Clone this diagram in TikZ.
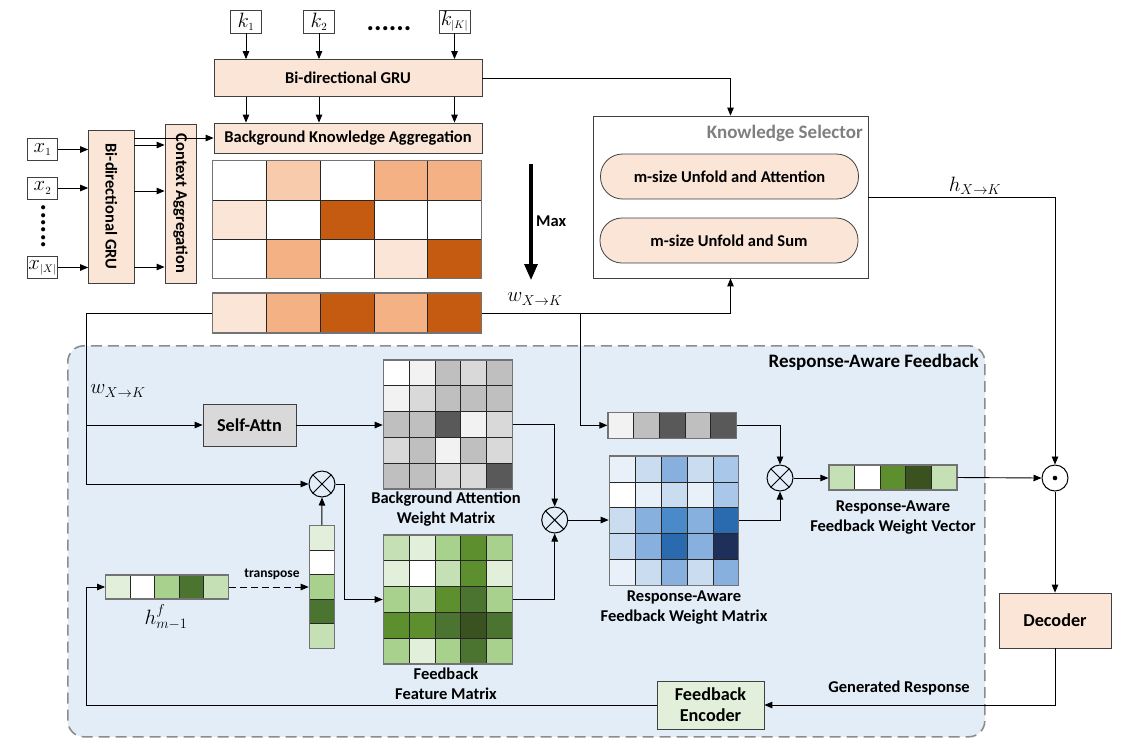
\documentclass[tikz,border=0pt]{standalone}
\usepackage{fontspec}
\setmainfont{Carlito}
\usetikzlibrary{arrows.meta,calc}
\definecolor{o1}{HTML}{FBE5D6}
\definecolor{o2}{HTML}{F8CBAD}
\definecolor{o3}{HTML}{F4B183}
\definecolor{o4}{HTML}{C55A11}
\definecolor{g1}{HTML}{F2F2F2}
\definecolor{g2}{HTML}{D9D9D9}
\definecolor{g3}{HTML}{BFBFBF}
\definecolor{g4}{HTML}{595959}
\definecolor{n1}{HTML}{E2EFDA}
\definecolor{n2}{HTML}{C5E0B4}
\definecolor{n3}{HTML}{A9D18E}
\definecolor{n4}{HTML}{5E8F2E}
\definecolor{n5}{HTML}{4B7430}
\definecolor{n6}{HTML}{3A5220}
\definecolor{b1}{HTML}{E8F0F9}
\definecolor{b2}{HTML}{C9DCF0}
\definecolor{b3}{HTML}{A9C7E8}
\definecolor{b4}{HTML}{88B0DE}
\definecolor{b5}{HTML}{4A8AC8}
\definecolor{b6}{HTML}{2A6AAF}
\definecolor{b7}{HTML}{1E2F5A}
\definecolor{regionfill}{HTML}{E2EDF8}
\definecolor{regionborder}{HTML}{8C8C8C}
\definecolor{ksgray}{HTML}{7F7F7F}
\definecolor{cellline}{HTML}{262626}
\newcommand{\cellgrid}[6]{%
  \foreach \cellc [count=\cellk from 0] in {#6} {%
    \pgfmathtruncatemacro{\cellr}{floor(\cellk/#5)}%
    \pgfmathtruncatemacro{\cellq}{\cellk-\cellr*#5}%
    \filldraw[fill=\cellc, draw=cellline, line width=0.8pt] ({#1+\cellq*#3},{#2+\cellr*#4}) rectangle ++(#3,#4);
  }%
}
\tikzset{
  base/.style={font=\fontsize{16.5}{20}\selectfont\bfseries},
  big/.style={font=\fontsize{18.2}{22}\selectfont\bfseries},
  peach/.style={draw=black!75, fill=o1, line width=0.8pt, inner sep=0pt},
  arr/.style={-{Triangle[length=8pt,width=6.5pt]}, line width=0.9pt},
  ln/.style={line width=0.9pt},
  mathlbl/.style={font=\fontsize{21}{23}\selectfont, inner sep=0pt},
  inbox/.style={draw=black!75, line width=0.8pt, fill=white, inner sep=0pt, minimum width=31, minimum height=23, font=\fontsize{22}{24}\selectfont},
  gridframe/.style={draw=black!55, line width=1.2pt, inner sep=0pt},
  mop/.style={circle, draw, line width=1pt, minimum size=26, inner sep=0pt},
  otimes/.style={mop, path picture={\draw[line width=1pt] (path picture bounding box.north west) -- (path picture bounding box.south east) (path picture bounding box.north east) -- (path picture bounding box.south west);}},
}
\begin{document}
\begin{tikzpicture}[x=1pt,y=-1pt]
\useasboundingbox (0,0) rectangle (1127,748);
% feedback region
\node[draw=regionborder, dash pattern=on 11pt off 6pt, line width=1.6pt, fill=regionfill, rounded corners=16pt, minimum width=917, minimum height=391, anchor=north west, inner sep=0pt] (raf) at (67,345) {};
\node[font=\fontsize{19}{22}\selectfont\bfseries, anchor=east, inner sep=0pt] (raftitle) at (979,362) {Response-Aware Feedback};

% knowledge inputs
\node[inbox] (k1) at (246,21.5) {$k_{\scriptscriptstyle 1}$};
\node[inbox] (k2) at (319,21.5) {$k_{\scriptscriptstyle 2}$};
\node[inbox] (kK) at (454.5,21.5) {$k_{\scriptscriptstyle |K|}$};
\node[font=\fontsize{28}{28}\selectfont\bfseries, anchor=base, inner sep=0pt] (kdots) at (389,30.5) {......};
\node[peach, minimum width=268, minimum height=37, base] (gru) at (348,78) {Bi-directional GRU};
\node[peach, minimum width=268, minimum height=30, base] (bka) at (348,138) {Background Knowledge Aggregation};
\foreach \kn in {k1,k2,kK} {
  \draw[arr] (\kn.south) -- (\kn.south |- gru.north);
  \draw[arr] (\kn.south |- gru.south) -- (\kn.south |- bka.north);
}

% context inputs
\node[inbox, minimum width=30, minimum height=22] (x1) at (42.5,149.5) {$x_{\scriptscriptstyle 1}$};
\node[inbox, minimum width=30, minimum height=22] (x2) at (42.5,188) {$x_{\scriptscriptstyle 2}$};
\node[inbox, minimum width=30, minimum height=22] (xX) at (42.5,267.5) {$x_{\scriptscriptstyle |X|}$};
\node[font=\fontsize{28}{28}\selectfont\bfseries, rotate=90, anchor=base, inner sep=0pt] (xdots) at (45,226.5) {......};
\node[peach, minimum width=45.4, minimum height=153, base] (bigru) at (111.3,206.5) {\rotatebox{-90}{Bi-directional GRU}};
\node[peach, minimum width=31, minimum height=159, base] (ca) at (180.5,203.5) {\rotatebox{-90}{Context Aggregation}};
\foreach \xn in {x1,x2,xX} {
  \draw[arr] (\xn.east) -- (\xn.east -| bigru.west);
}
\coordinate (c1) at (0,145);
\coordinate (c2) at (0,191);
\coordinate (c3) at (0,267);
\foreach \cn in {c1,c2,c3} {
  \draw[arr] (bigru.east |- \cn) -- (ca.west |- \cn);
}
\draw[arr] (bigru.east |- bka.west) -- (bka.west);

% background matrix
\cellgrid{212.5}{160.7}{53.8}{39.2}{5}{white,o2,white,o3,o3,o1,white,o4,white,white,white,o3,white,o1,o4}
\node[gridframe, minimum width=269, minimum height=117.6] (mtop) at (347,219.5) {};
\cellgrid{212.5}{293}{53.8}{40}{5}{o1,o3,o4,o3,o4}
\node[gridframe, minimum width=269, minimum height=40] (bar) at (347,313) {};

% max arrow
\coordinate (maxs) at (531,164);
\coordinate (maxe) at (531,280);
\draw[line width=3.2pt, -{Triangle[length=16pt,width=13pt]}] (maxs) -- (maxe);
\node[base, anchor=west, inner sep=0pt] (maxlbl) at (536,221) {Max};

% knowledge selector
\node[draw=black!75, line width=0.8pt, fill=white, minimum width=275, minimum height=162, inner sep=0pt] (ks) at (730.5,197) {};
\node[font=\fontsize{19}{22}\selectfont\bfseries, text=ksgray, anchor=east, inner sep=0pt] (kstitle) at (863,133) {Knowledge Selector};
\node[peach, rounded corners=22pt, minimum width=258, minimum height=45, base] (unfa) at (729.5,176.5) {m-size Unfold and Attention};
\node[peach, rounded corners=22pt, minimum width=258, minimum height=45, base] (unfs) at (729,240.5) {m-size Unfold and Sum};
\draw[arr] (gru.east) -| (ks.north);
\draw[arr] (bar.east) -| (ks.south);
\node[mathlbl] (wlbl1) at (535,299) {$w_{X\rightarrow K}$};

% output merge and decoder
\node[mop] (odot) at (1055,478) {};
\fill (odot.center) circle (2.3);
\draw[arr] (ks.east) -| (odot.north);
\node[mathlbl] (hxk) at (975,186) {$h_{X\rightarrow K}$};
\node[peach, minimum width=112, minimum height=55, big] (dec) at (1055,620.5) {Decoder};
\draw[arr] (odot.south) -- (dec.north);
\node[draw=black!75, fill=n1, line width=0.8pt, minimum width=107, minimum height=48, inner sep=0pt, align=center, font=\fontsize{18.2}{21}\selectfont\bfseries] (fe) at (710.5,705) {Feedback\\Encoder};
\draw[arr] (dec.south) |- (fe.east);
\node[base, inner sep=0pt] (genlbl) at (899,688) {Generated Response};

% left trunk
\coordinate (lt) at (86,313);
\coordinate (lb) at (86,705);
\node[draw=black!75, fill=g2, line width=0.8pt, minimum width=93, minimum height=42, inner sep=0pt, big] (sa) at (249.5,425) {Self-Attn};
\node[otimes] (o1) at (322,484) {};
\draw[ln] (bar.west) -- (lt) -- (lt |- o1);
\draw[arr] (lt |- sa) -- (sa.west);
\draw[arr] (lt |- o1) -- (o1.west);
\node[mathlbl] (wlbl2) at (118,391) {$w_{X\rightarrow K}$};

% attention matrix
\cellgrid{383.3}{360}{25.8}{25.8}{5}{white,g1,g3,g2,g3,g1,g2,g3,g3,g3,g3,g3,g4,g1,g2,g2,g3,g1,g3,g2,g3,g3,g2,g2,g4}
\node[gridframe, minimum width=129, minimum height=129] (att) at (447.8,424.5) {};
\node[base, align=center, inner sep=0pt] (attlbl) at (446,509) {Background Attention\\Weight Matrix};
\draw[arr] (sa.east) -- (sa.east -| att.west);

% feedback feature matrix
\cellgrid{383.3}{535}{25.8}{25.8}{5}{n2,n1,n3,n4,n3,n1,white,n2,n4,n1,n3,n2,n4,n5,n3,n4,n4,n5,n6,n5,n3,n1,n3,n5,n3}
\node[gridframe, minimum width=129, minimum height=129] (fb) at (447.8,599.5) {};
\node[base, align=center, inner sep=0pt] (fblbl) at (446,684) {Feedback\\Feature Matrix};

% h vector and transposed column
\cellgrid{105.7}{575}{24.5}{24}{5}{n1,white,n3,n5,n2}
\node[gridframe, minimum width=122.5, minimum height=24] (hvec) at (166.95,587) {};
\node[mathlbl] (hlbl) at (166,617) {$h^{f}_{m-1}$};
\cellgrid{309.3}{525.7}{25}{24.5}{1}{n1,white,n3,n5,n2}
\node[gridframe, minimum width=25, minimum height=122.5] (colvec) at (321.8,586.95) {};
\draw[arr, dashed, dash pattern=on 7pt off 4pt] (hvec.east) -- (hvec.east -| colvec.west);
\node[font=\fontsize{13.5}{15}\selectfont\bfseries, inner sep=0pt] (tlbl) at (272,574) {transpose};
\draw[arr] (colvec.north) -- (o1.south);
\draw[arr] (o1.east) -- ++(9,0) |- (fb.west);
\draw[arr] (fe.west) -- (lb) |- (hvec.west);

% combine
\node[otimes] (o2) at (554.7,520) {};
\draw[arr] (att.east) -| (o2.north);
\draw[arr] (fb.east) -| (o2.south);

% blue matrix
\cellgrid{609.3}{456}{25.9}{25.9}{5}{b1,b2,b4,b2,b3,white,b1,b2,b1,b3,b2,b4,b5,b4,b6,b2,b4,b6,b4,b7,b1,b2,b4,b2,b4}
\node[gridframe, minimum width=129.5, minimum height=129.5] (blue) at (674.05,520.75) {};
\node[base, align=center, inner sep=0pt] (bluelbl) at (684,608) {Response-Aware\\Feedback Weight Matrix};
\draw[arr] (o2.east) -- (o2.east -| blue.west);

% gray vector
\cellgrid{608}{412.3}{25.7}{26}{5}{g1,g3,g4,g3,g4}
\node[gridframe, minimum width=128.5, minimum height=26] (gv) at (672.25,425.3) {};
\coordinate (br) at (580,313);
\draw[arr] (br) |- (gv.west);

\node[otimes] (o3) at (780,478) {};
\draw[arr] (gv.east) -| (o3.north);
\draw[arr] (blue.east) -| (o3.south);

% response-aware vector
\cellgrid{829}{465}{25.6}{25}{5}{n2,white,n4,n6,n2}
\node[gridframe, minimum width=128, minimum height=25] (ra) at (893,477.5) {};
\node[base, align=center, inner sep=0pt] (ralbl) at (893,517.5) {Response-Aware\\Feedback Weight Vector};
\draw[arr] (o3.east) -- (o3.east -| ra.west);
\draw[arr] (ra.east) -- (odot.west);
\end{tikzpicture}
\end{document}
